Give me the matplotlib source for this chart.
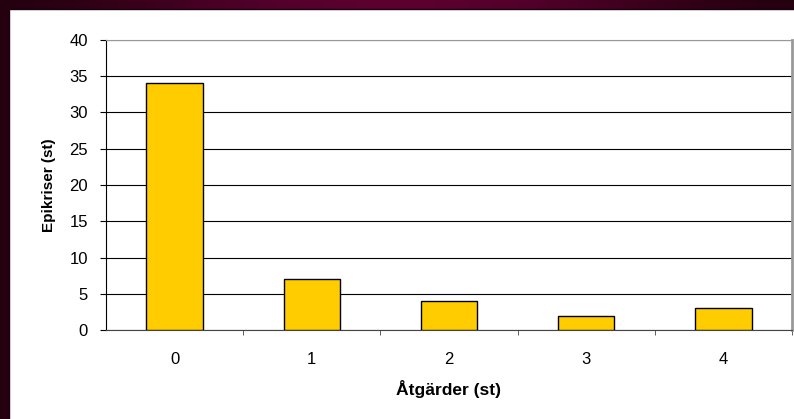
import numpy as np
import matplotlib.pyplot as plt
from matplotlib.colors import LinearSegmentedColormap
from matplotlib.patches import Rectangle

# chart data
categories = ['0', '1', '2', '3', '4']
values = [34, 7, 4, 2, 3]
yticks = [0, 5, 10, 15, 20, 25, 30, 35, 40]

plt.rcParams['font.family'] = ['Liberation Sans', 'DejaVu Sans']

fig = plt.figure(figsize=(7.94, 4.19), dpi=100)

# maroon slide background with a soft gradient
bg = fig.add_axes([0, 0, 1, 1], zorder=-10)
grad = np.sin(np.linspace(0, 1, 256) * np.pi) ** 1.5
cmap = LinearSegmentedColormap.from_list('m', ['#25000f', '#5c0030'])
bg.imshow(np.vstack([grad, grad]), aspect='auto', cmap=cmap, extent=[0, 1, 0, 1])
bg.set_xlim(0, 1)
bg.set_ylim(0, 1)
bg.axis('off')
# white chart panel
bg.add_patch(Rectangle((9 / 794, -0.01), 1, 1.01 - 9 / 419, facecolor='white',
                       edgecolor='#1a0010', linewidth=1.0))

ax = fig.add_axes([106 / 794, 89 / 419, 686 / 794, 290 / 419])
x = np.arange(len(categories))
ax.bar(x, values, width=0.41, color='#ffcc00', edgecolor='black', linewidth=1.0, zorder=3)

ax.set_xlim(-0.5, 4.5)
ax.set_ylim(0, 40)
ax.set_yticks(yticks)
ax.set_xticks(x)
ax.set_xticklabels(categories)
ax.set_xticks(np.arange(0.5, 4.6, 1), minor=True)
ax.tick_params(axis='x', which='major', length=0, pad=15.5, labelsize=12)
ax.tick_params(axis='x', which='minor', length=3.6, direction='out', color='#444444')
ax.tick_params(axis='y', length=4.3, direction='out', pad=8.6, labelsize=12)

ax.grid(axis='y', color='black', linewidth=0.8, zorder=0)
ax.spines['left'].set_color('black')
ax.spines['bottom'].set_color('#444444')
ax.spines['top'].set_color('#999999')
ax.spines['right'].set_color('#999999')
ax.spines['right'].set_linewidth(2)

ax.set_ylabel('Epikriser (st)', fontsize=11, fontweight='bold', labelpad=10)
ax.set_xlabel('Åtgärder (st)', fontsize=12.5, fontweight='bold', labelpad=10)

fig.savefig('out.png', dpi=100)
